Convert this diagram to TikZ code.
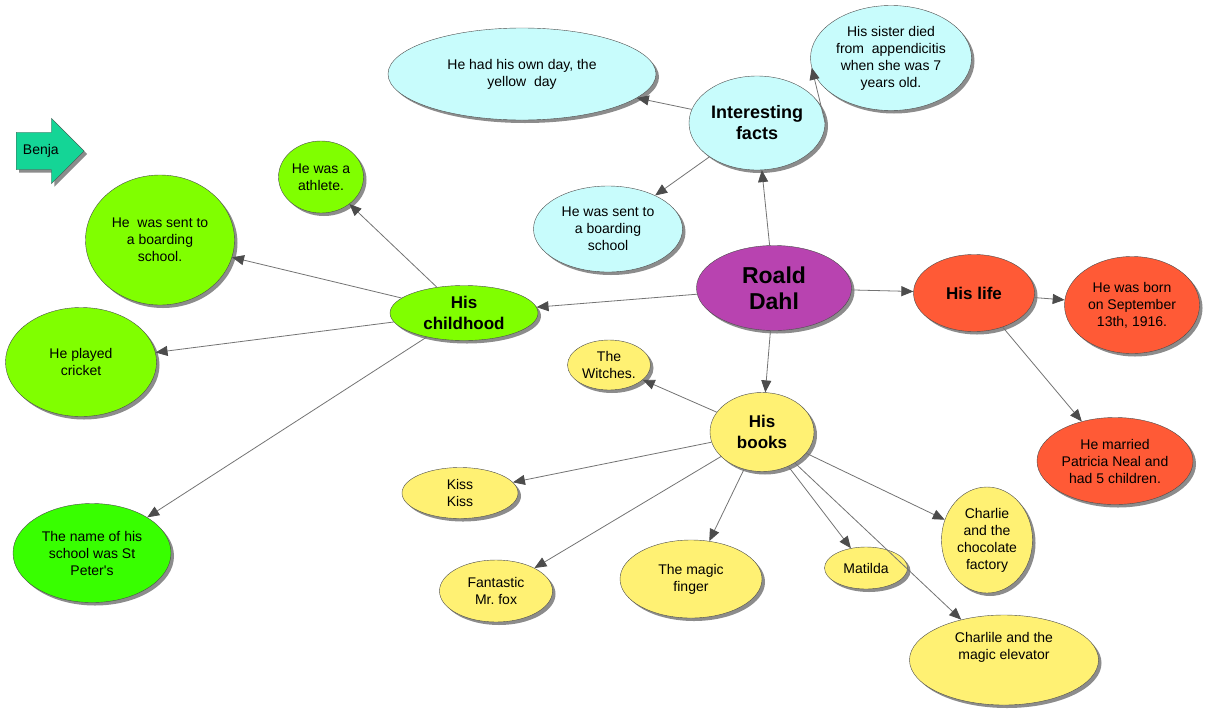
\documentclass[tikz,border=0pt]{standalone}
\usepackage{fontspec}
\setmainfont{Liberation Sans}
\usetikzlibrary{positioning,shapes.geometric,shapes.arrows,shadows,arrows.meta}
\definecolor{dahlpurple}{HTML}{B843B0}
\definecolor{factcyan}{HTML}{C8FCFC}
\definecolor{lifered}{HTML}{FF5A36}
\definecolor{childgreen}{HTML}{80FF00}
\definecolor{schoolgreen}{HTML}{38FF00}
\definecolor{bookyellow}{HTML}{FFF173}
\definecolor{benjateal}{HTML}{14D596}
\frenchspacing

\begin{document}
\begin{tikzpicture}[
    x=1pt, y=-1pt,
    bubble/.style={
        ellipse,
        draw=black!70,
        inner sep=0pt,
        align=center,
        font=\fontsize{14}{17}\selectfont,
        drop shadow={shadow xshift=3pt, shadow yshift=-3pt, fill=black!45, opacity=1}
    },
    topic/.style={
        bubble,
        font=\fontsize{17}{21}\selectfont\bfseries
    },
    arrow/.style={draw=black!55, line width=0.8pt, -{Triangle[length=12pt, width=10pt, color=black!70]}}
]
\useasboundingbox (0,0) rectangle (1209,715);

% centre
\node (dahl) [topic, fill=dahlpurple, minimum width=155pt, minimum height=85pt,
    font=\fontsize{23}{26}\selectfont\bfseries] at (774,288) {Roald\\Dahl};

% interesting facts
\node (facts) [topic, fill=factcyan, minimum width=136pt, minimum height=94pt,
    font=\fontsize{18}{21}\selectfont\bfseries] at (757,123) {Interesting\\facts};
\node (yellowday) [bubble, fill=factcyan, minimum width=268pt, minimum height=92pt]
    at (522,74) {He had his own day, the\\yellow\ \ day};
\node (sister) [bubble, fill=factcyan, minimum width=161pt, minimum height=105pt]
    at (891,58) {His sister died\\from\ \ appendicitis\\when she was 7\\years old.};
\node (sentfact) [bubble, fill=factcyan, minimum width=149pt, minimum height=86pt]
    at (608,229) {He was sent to\\a boarding\\school};

% his life
\node (life) [topic, fill=lifered, minimum width=121pt, minimum height=77pt] at (974,293) {His life};
\node (born) [bubble, fill=lifered, minimum width=135pt, minimum height=97pt]
    at (1132,305) {He was born\\on September\\13th, 1916.};
\node (married) [bubble, fill=lifered, minimum width=156pt, minimum height=87pt]
    at (1115,461) {He married\\Patricia Neal and\\had 5 children.};

% his childhood
\node (child) [topic, fill=childgreen, minimum width=148pt, minimum height=55pt] at (464,313) {His\\childhood};
\node (athlete) [bubble, fill=childgreen, minimum width=85pt, minimum height=72pt]
    at (321,177) {He was a\\athlete.};
\node (boarding) [bubble, fill=childgreen, minimum width=149pt, minimum height=130pt]
    at (160,240) {He\ \ was sent to\\a boarding\\school.};
\node (cricket) [bubble, fill=childgreen, minimum width=151pt, minimum height=109pt]
    at (81,362) {He played\\cricket};
\node (stpeter) [bubble, fill=schoolgreen, minimum width=158pt, minimum height=99pt]
    at (92,553) {The name of his\\school was St\\Peter\textquotesingle s};

% his books
\node (books) [topic, fill=bookyellow, minimum width=104pt, minimum height=79pt] at (762,432) {His\\books};
\node (witches) [bubble, fill=bookyellow, minimum width=83pt, minimum height=50pt]
    at (609,365) {The\\Witches.};
\node (kiss) [bubble, fill=bookyellow, minimum width=116pt, minimum height=51pt]
    at (460,493) {Kiss\\Kiss};
\node (fox) [bubble, fill=bookyellow, minimum width=113pt, minimum height=62pt]
    at (496,591) {Fantastic\\Mr. fox};
\node (finger) [bubble, fill=bookyellow, minimum width=142pt, minimum height=78pt]
    at (691,579) {The magic\\finger};
\node (matilda) [bubble, fill=bookyellow, minimum width=83pt, minimum height=42pt]
    at (866,568) {Matilda};
\node (factory) [bubble, fill=bookyellow, minimum width=91pt, minimum height=106pt]
    at (987,540) {Charlie\\and the\\chocolate\\factory};
\node (elevator) [bubble, fill=bookyellow, minimum width=189pt, minimum height=90pt]
    at (1004,660) {Charlile and the\\magic elevator\\[11pt]\mbox{}};

% name tag
\node (benja) [single arrow, draw=black!70, fill=benjateal, anchor=tail,
    single arrow head extend=14pt, minimum height=68pt, minimum width=65pt,
    inner xsep=4pt, inner ysep=12pt, font=\fontsize{14}{17}\selectfont,
    drop shadow={shadow xshift=3pt, shadow yshift=-3pt, fill=black!45, opacity=1}]
    at (16,151) {Benja};

\draw [arrow] (dahl) -- (facts);
\draw [arrow] (facts) -- (yellowday);
\draw [arrow] (facts.east) -- (sister.187);
\draw [arrow] (facts) -- (sentfact);
\draw [arrow] (dahl) -- (life);
\draw [arrow] (life) -- (born);
\draw [arrow] (life) -- (married);
\draw [arrow] (dahl) -- (child);
\draw [arrow] (child) -- (athlete);
\draw [arrow] (child) -- (boarding);
\draw [arrow] (child) -- (cricket);
\draw [arrow] (child) -- (stpeter);
\draw [arrow] (dahl) -- (books);
\draw [arrow] (books) -- (witches);
\draw [arrow] (books) -- (kiss);
\draw [arrow] (books) -- (fox);
\draw [arrow] (books) -- (finger);
\draw [arrow] (books) -- (matilda);
\draw [arrow] (books) -- (factory);
\draw [arrow] (books) -- (elevator);

\end{tikzpicture}
\end{document}
